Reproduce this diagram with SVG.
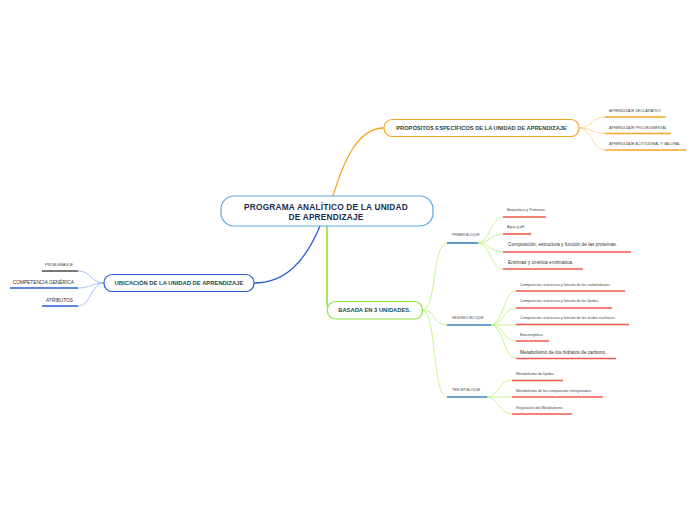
<svg xmlns="http://www.w3.org/2000/svg" width="696" height="520" viewBox="0 0 696 520">
<style>
text{font-family:"Liberation Sans",Arial,sans-serif}
.t{fill:#1f4a44;font-weight:bold;text-anchor:middle}
.c{fill:#1c2b50;font-weight:bold;text-anchor:middle;font-size:8.3px;letter-spacing:0.2px}
.s{fill:#444;font-size:3.7px}
.m{fill:#333;font-size:4.8px}
.b{fill:#444;font-size:3.3px}
.box{fill:#fff;stroke-width:1.2}
.ul{fill:none;stroke-width:1.6;stroke-linecap:butt}
.red{stroke:#ef5a4c}
.org{stroke:#f5a623}
.blu{stroke:#2a5bd7}
.blk{stroke:#3a86c4}
.cn{fill:none;stroke-width:0.9}
</style>
<g id="connectors">
<path d="M333,196 C344,160 358,128 384,128" fill="none" stroke="#f5a623" stroke-width="1.3"/>
<path d="M320,226 C305,262 285,283 254,283" fill="none" stroke="#2a5bd7" stroke-width="1.3"/>
<path d="M327,226 L327,302 Q327,310 333,310" fill="none" stroke="#8be33b" stroke-width="1.6"/>
<g stroke="#fbd28f" class="cn">
<path d="M579,128 C592,128 592,117 605,117"/>
<path d="M579,128 C592,128 592,133.5 605,133.5"/>
<path d="M579,128 C592,128 592,150 605,150"/>
</g>
<g stroke="#9cb9f2" class="cn">
<path d="M104,283 C91,283 91,271 78,271"/>
<path d="M104,283 C91,283 91,288 78,288"/>
<path d="M104,283 C91,283 91,306 78,306"/>
</g>
<g stroke="#bff285" class="cn">
<path d="M422,310 C437,310 432,243 447,243"/>
<path d="M422,310 C437,310 432,325 447,325"/>
<path d="M422,310 C437,310 432,397 447,397"/>
<path d="M477,243 C490,243 491,217 503,217"/>
<path d="M477,243 C490,243 491,234 503,234"/>
<path d="M477,243 C490,243 491,252 503,252"/>
<path d="M477,243 C490,243 491,269 503,269"/>
<path d="M490,325 C504,325 503,291 516,291"/>
<path d="M490,325 C504,325 503,308 516,308"/>
<path d="M490,325 L516,325"/>
<path d="M490,325 C504,325 503,341 516,341"/>
<path d="M490,325 C504,325 503,358 516,358"/>
<path d="M486,397 C499,397 499,380 512,380"/>
<path d="M486,397 L512,397"/>
<path d="M486,397 C499,397 499,414 512,414"/>
</g>
</g>
<g id="central">
<rect x="221" y="196" width="212" height="30" rx="13" class="box" stroke="#5aa8dd"/>
<text x="326" y="209.6" class="c">PROGRAMA ANALÍTICO DE LA UNIDAD</text>
<text x="326" y="219.6" class="c">DE APRENDIZAJE</text>
</g>
<g id="propositos">
<rect x="384" y="119.5" width="195" height="17" rx="8" class="box" stroke="#f5a623"/>
<text x="481.5" y="130" class="t" font-size="5.7">PROPÓSITOS ESPECÍFICOS DE LA UNIDAD DE APRENDIZAJE</text>
</g>
<g id="declarativo"><text x="609" y="112.3" class="s" font-size="3.6">APRENDIZAJE DECLARATIVO</text><path d="M605,117 H666" class="ul org"/></g>
<g id="procedimental"><text x="609" y="128.6" class="s" font-size="3.6">APRENDIZAJE PROCEDIMENTAL</text><path d="M605,133.5 H671" class="ul org"/></g>
<g id="actitudinal"><text x="609" y="144.6" class="s" font-size="3.6">APRENDIZAJE ACTITUDINAL Y VALORAL</text><path d="M605,150 H686" class="ul org"/></g>
<g id="ubicacion">
<rect x="104" y="274.5" width="150" height="17" rx="8" class="box" stroke="#2a5bd7"/>
<text x="179" y="285" class="t" font-size="5.85">UBICACIÓN DE LA UNIDAD DE APRENDIZAJE</text>
</g>
<g id="problema"><text x="73" y="265.7" class="s" font-size="3.5" text-anchor="end">PROBLEMA EJE</text><path d="M42,271 H78" class="ul" stroke="#4a4a4a"/></g>
<g id="competencia"><text x="74" y="283.6" class="m" font-size="4.7" text-anchor="end">COMPETENCIA GENÉRICA</text><path d="M10,288 H78" class="ul blu"/></g>
<g id="atributos"><text x="73" y="301.6" class="m" font-size="4.7" text-anchor="end">ATRIBUTOS</text><path d="M42,306 H78" class="ul blu"/></g>
<g id="basada">
<rect x="327.5" y="301.5" width="95" height="17.5" rx="8" class="box" stroke="#8be33b"/>
<text x="374.5" y="312.2" class="t" font-size="5.8">BASADA EN 3 UNIDADES.</text>
</g>
<g id="primer"><text x="452" y="236.2" class="b" font-size="3.1">PRIMER BLOQUE</text><path d="M447,243 H478" class="ul blk" stroke-width="1.8"/></g>
<g id="segundo"><text x="452" y="319.3" class="b" font-size="3.5">SEGUNDO BLOQUE</text><path d="M447,325 H491" class="ul blk" stroke-width="1.8"/></g>
<g id="tercer"><text x="452" y="391.3" class="b" font-size="3.4">TERCER BLOQUE</text><path d="M447,397 H487" class="ul blk" stroke-width="1.8"/></g>
<g id="bioquimica"><text x="507" y="211.3" class="s" font-size="3.5">Bioquímica y Proteínas</text><path d="M503,217 H546" class="ul red"/></g>
<g id="agua"><text x="507" y="228.3" class="s" font-size="3.5">Agua y pH</text><path d="M503,234 H531" class="ul red"/></g>
<g id="proteinas"><text x="508" y="246.2" class="m">Composición, estructura y función de las proteínas.</text><path d="M503,252 H631" class="ul red"/></g>
<g id="enzimas"><text x="508" y="263.7" class="m">Enzimas y cinética enzimática.</text><path d="M503,269 H583" class="ul red"/></g>
<g id="carbohidratos"><text x="520" y="285.6" class="s">Composición, estructura y función de los carbohidratos.</text><path d="M516,291 H625" class="ul red"/></g>
<g id="lipidos"><text x="520" y="302.3" class="s">Composición, estructura y función de los lípidos.</text><path d="M516,308 H612" class="ul red"/></g>
<g id="nucleicos"><text x="520" y="319" class="s">Composición, estructura y función de los ácidos nucleicos.</text><path d="M516,324.5 H629" class="ul red"/></g>
<g id="bioenergetica"><text x="520" y="335.6" class="s">Bioenergética</text><path d="M516,341 H549" class="ul red"/></g>
<g id="hidratos"><text x="520" y="353.8" class="m" font-size="5">Metabolismo de los hidratos de carbono</text><path d="M516,358.5 H616" class="ul red"/></g>
<g id="metlipidos"><text x="516" y="375" class="s" font-size="3.8">Metabolismo de lípidos.</text><path d="M512,380.5 H563" class="ul red"/></g>
<g id="nitrogenados"><text x="516" y="391.6" class="s" font-size="3.8">Metabolismo de los compuestos nitrogenados.</text><path d="M512,397 H603" class="ul red"/></g>
<g id="regulacion"><text x="516" y="408.6" class="s" font-size="3.8">Regulación del Metabolismo.</text><path d="M512,414 H572" class="ul red"/></g>
</svg>
